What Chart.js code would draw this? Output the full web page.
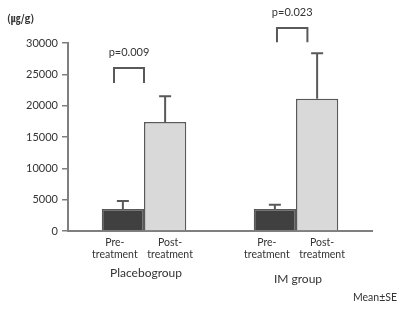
<!DOCTYPE html>
<html>
<head>
<meta charset="utf-8">
<script src="https://cdn.jsdelivr.net/npm/chart.js@4.4.1/dist/chart.umd.min.js"></script>
<style>
  html, body { margin: 0; padding: 0; background: #fff; }
  #wrap { width: 417px; height: 310px; position: relative; }
</style>
</head>
<body>
<div id="wrap"><canvas id="chart" width="417" height="310"></canvas></div>
<script>
// chart data
const groups = ['Placebogroup', 'IM group'];
const preMeans = [3500, 3500];
const preSE = [1300, 700];
const postMeans = [17400, 21100];
const postSE = [4100, 7250];
const yTicks = [0, 5000, 10000, 15000, 20000, 25000, 30000];
const pValues = ['p=0.009', 'p=0.023'];
const bracketTop = [26000, 32400];
const bracketBottom = [23600, 30100];

const FONT = 'Lato, "Open Sans", sans-serif';
const AXIS = '#7f7f7f';

// error bars, treatment labels, p-value brackets, extra text
const decorations = {
  id: 'decorations',
  afterDatasetsDraw(chart) {
    const { ctx } = chart;
    const y = chart.scales.y;
    const seSets = [preSE, postSE];
    ctx.save();
    ctx.strokeStyle = '#595959';
    ctx.lineWidth = 2;
    chart.data.datasets.forEach((ds, di) => {
      chart.getDatasetMeta(di).data.forEach((bar, i) => {
        const top = y.getPixelForValue(ds.data[i] + seSets[di][i]);
        ctx.beginPath();
        ctx.moveTo(bar.x, bar.y);
        ctx.lineTo(bar.x, top);
        ctx.moveTo(bar.x - 6, top);
        ctx.lineTo(bar.x + 6, top);
        ctx.stroke();
      });
    });
    ctx.restore();
  },
  afterDraw(chart) {
    const { ctx } = chart;
    const x = chart.scales.x;
    const y = chart.scales.y;
    const pre = chart.getDatasetMeta(0).data;
    const post = chart.getDatasetMeta(1).data;
    ctx.save();
    ctx.fillStyle = '#333';
    ctx.textAlign = 'center';
    ctx.textBaseline = 'middle';
    ctx.font = '10.5px ' + FONT;
    pre.forEach(b => { ctx.fillText('Pre-', b.x - 8, 243); ctx.fillText('treatment', b.x - 8, 255); });
    post.forEach(b => { ctx.fillText('Post-', b.x + 5, 243); ctx.fillText('treatment', b.x + 5, 255); });

    ctx.font = '12px ' + FONT;
    ctx.fillText(groups[0], x.getPixelForValue(0) + 2, 273);
    ctx.fillText(groups[1], x.getPixelForValue(1) + 2, 279);
    ctx.font = '10.5px ' + FONT;
    ctx.fillText('Mean±SE', 375, 298);

    ctx.font = 'bold 10px "Noto Sans CJK KR", ' + FONT;
    ctx.textAlign = 'left';
    ctx.fillText('(㎍/g)', 7, 18);

    // brackets
    const legs = [[-0.71, 0], [-0.45, 0.27]];
    ctx.strokeStyle = '#595959';
    ctx.lineWidth = 2;
    ctx.font = '11px ' + FONT;
    ctx.textAlign = 'center';
    groups.forEach((g, i) => {
      const cx = x.getPixelForValue(i);
      const w = post[i].width;
      const x1 = cx + legs[i][0] * w;
      const x2 = cx + legs[i][1] * w;
      const yt = y.getPixelForValue(bracketTop[i]);
      const yb = y.getPixelForValue(bracketBottom[i]);
      ctx.beginPath();
      ctx.moveTo(x1, yb);
      ctx.lineTo(x1, yt);
      ctx.lineTo(x2, yt);
      ctx.lineTo(x2, yb);
      ctx.stroke();
      ctx.fillText(pValues[i], (x1 + x2) / 2, yt - 16);
    });
    ctx.restore();
  }
};

new Chart(document.getElementById('chart'), {
  type: 'bar',
  data: {
    labels: groups,
    datasets: [
      { label: 'Pre-treatment', data: preMeans, backgroundColor: '#404040', borderColor: '#595959', borderWidth: 1.5 },
      { label: 'Post-treatment', data: postMeans, backgroundColor: '#d9d9d9', borderColor: '#595959', borderWidth: 1.5 },
    ],
  },
  options: {
    responsive: false,
    animation: false,
    events: [],
    layout: { padding: { top: 43, right: 45, left: 0, bottom: 0 } },
    plugins: { legend: { display: false }, tooltip: { enabled: false } },
    datasets: { bar: { categoryPercentage: 0.556, barPercentage: 1 } },
    scales: {
      x: {
        ticks: { display: false },
        grid: { drawOnChartArea: false, drawTicks: false },
        border: { display: true, color: AXIS, width: 2 },
        afterFit(s) { s.height = 79; },
      },
      y: {
        min: 0,
        max: 30000,
        afterBuildTicks(s) { s.ticks = yTicks.map(v => ({ value: v })); },
        ticks: { color: '#333', font: { family: FONT, size: 11 }, padding: 4, callback: v => String(v) },
        grid: { drawOnChartArea: false, drawTicks: true, tickLength: 6, color: AXIS, lineWidth: 1.5 },
        border: { display: true, color: AXIS, width: 2 },
        afterFit(s) { s.width = 68; },
      },
    },
  },
  plugins: [decorations],
});
</script>
</body>
</html>
